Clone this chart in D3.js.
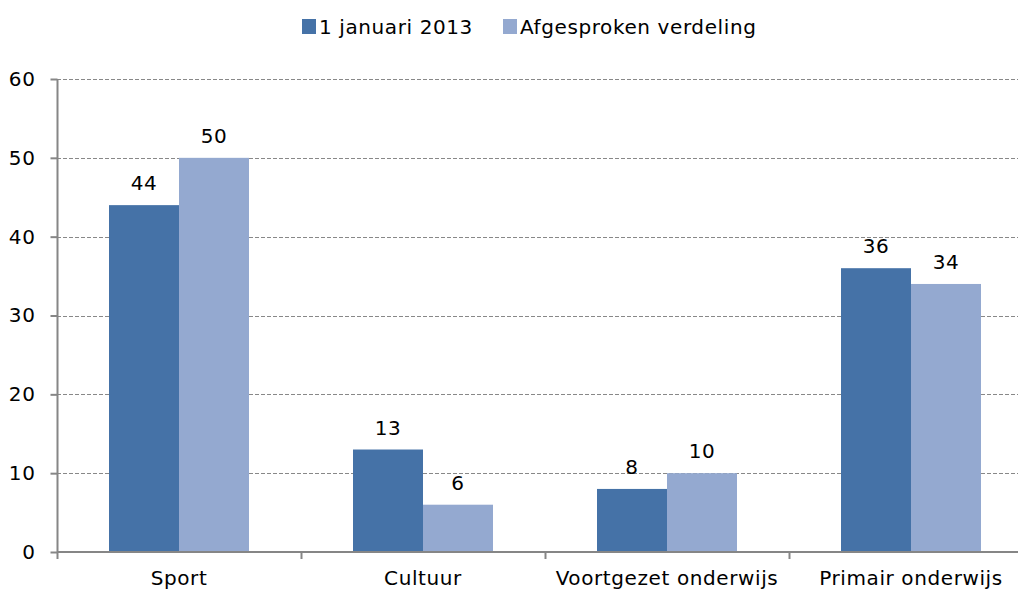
<!DOCTYPE html>
<html>
<head>
<meta charset="utf-8">
<script src="https://cdn.jsdelivr.net/npm/d3@7"></script>
<style>
  html, body { margin: 0; padding: 0; background: #fff; }
  svg { display: block; font-family: "DejaVu Sans", Verdana, sans-serif; }
  svg text { letter-spacing: 0.6px; }
</style>
</head>
<body>
<svg id="chart" width="1018" height="590"></svg>
<script>
const categories = ["Sport", "Cultuur", "Voortgezet onderwijs", "Primair onderwijs"];
const seriesNames = ["1 januari 2013", "Afgesproken verdeling"];
const values2013 = [44, 13, 8, 36];
const valuesAfgesproken = [50, 6, 10, 34];
const yTicks = [0, 10, 20, 30, 40, 50, 60];
const colors = ["#4572a7", "#94a9d0"];

(function () {
const svg = d3.select("#chart");
const mLeft = 57, mBottom = 552, mTop = 79;
const step = 244;
const fs = 20;

const x0 = d3.scaleBand().domain(categories).range([mLeft, mLeft + step * categories.length]).padding(0);
const x1 = d3.scaleBand().domain(seriesNames).range([0, x0.bandwidth()]).paddingInner(0).paddingOuter(0.743);
const y = d3.scaleLinear().domain([0, 60]).range([mBottom, mTop]);

const data = categories.map((c, i) => ({cat: c, vals: [values2013[i], valuesAfgesproken[i]]}));

// gridlines
svg.append("g").selectAll("line").data(yTicks.filter(t => t > 0)).join("line")
  .attr("x1", mLeft).attr("x2", 1018)
  .attr("y1", d => Math.round(y(d)) + 0.5).attr("y2", d => Math.round(y(d)) + 0.5)
  .attr("stroke", "#888888").attr("stroke-width", 1).attr("stroke-dasharray", "4,2");

// bars
const groups = svg.append("g").selectAll("g").data(data).join("g")
  .attr("transform", d => `translate(${x0(d.cat)},0)`);
groups.selectAll("rect").data(d => d.vals.map((v, j) => ({v, s: seriesNames[j], j}))).join("rect")
  .attr("x", d => x1(d.s)).attr("width", x1.bandwidth())
  .attr("y", d => y(d.v)).attr("height", d => mBottom - y(d.v))
  .attr("fill", d => colors[d.j]);
groups.selectAll("text").data(d => d.vals.map((v, j) => ({v, s: seriesNames[j], j}))).join("text")
  .attr("x", d => x1(d.s) + x1.bandwidth() / 2).attr("y", d => y(d.v) - 15)
  .attr("text-anchor", "middle").attr("font-size", fs).attr("fill", "#000")
  .text(d => d.v);

// y axis
const yAxis = d3.axisLeft(y).tickValues(yTicks).tickSize(7).tickPadding(15);
const gy = svg.append("g").attr("transform", `translate(${mLeft + 0.5},0)`).call(yAxis);
gy.select(".domain").attr("stroke", "#868686").attr("stroke-width", 2).attr("d", `M0,${mTop}V${mBottom}`);
gy.selectAll(".tick line").attr("stroke", "#868686").attr("stroke-width", 2);
gy.selectAll(".tick text").attr("font-size", fs).attr("fill", "#000").attr("font-family", "DejaVu Sans");

// x axis
const gx = svg.append("g").attr("transform", `translate(0,${mBottom})`);
gx.append("line").attr("x1", mLeft).attr("x2", 1018).attr("y1", 0).attr("y2", 0)
  .attr("stroke", "#868686").attr("stroke-width", 2);
const boundaries = categories.map(c => x0(c));
gx.selectAll(".xt").data(boundaries).join("line").attr("class", "xt")
  .attr("x1", d => d + 0.5).attr("x2", d => d + 0.5).attr("y1", 0).attr("y2", 7)
  .attr("stroke", "#868686").attr("stroke-width", 2);
gx.selectAll(".xl").data(categories).join("text").attr("class", "xl")
  .attr("x", d => x0(d) + x0.bandwidth() / 2).attr("y", 33)
  .attr("text-anchor", "middle").attr("font-size", fs).attr("fill", "#000")
  .text(d => d);

// legend
const legend = svg.append("g");
const legX = [302, 503];
seriesNames.forEach((s, i) => {
  legend.append("rect").attr("x", legX[i]).attr("y", 19).attr("width", 14).attr("height", 15).attr("fill", colors[i]);
  legend.append("text").attr("x", legX[i] + 17).attr("y", 34).attr("font-size", fs).attr("fill", "#000").text(s);
});
})();
</script>
</body>
</html>
